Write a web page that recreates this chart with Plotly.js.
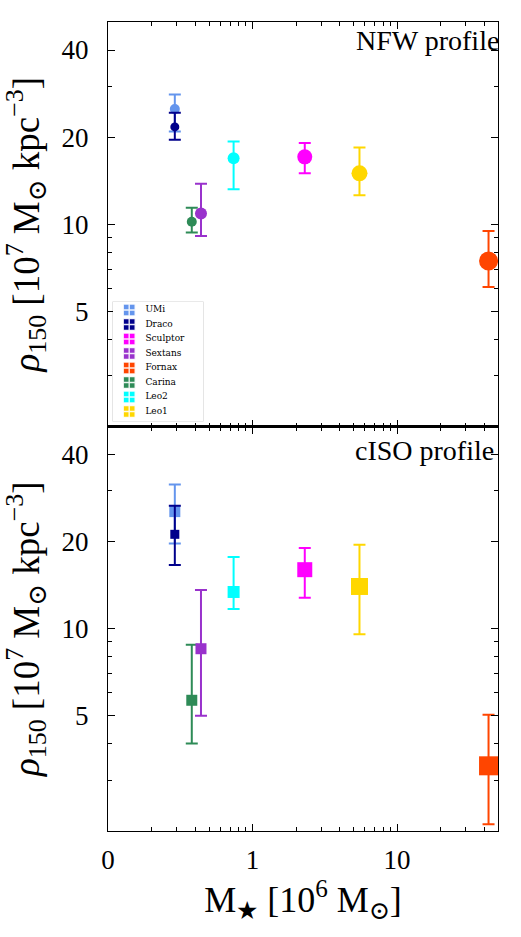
<!DOCTYPE html>
<html>
<head>
<meta charset="utf-8">
<script src="https://cdn.plot.ly/plotly-3.0.1.min.js"></script>
<style>
  html, body { margin: 0; padding: 0; background: #ffffff; }
  #chart { width: 521px; height: 937px; }
</style>
</head>
<body>
<div id="chart"></div>
<script>
// Dwarf spheroidal galaxies: stellar mass vs. dark-matter density at 150 pc
const galaxies = ['UMi', 'Draco', 'Sculptor', 'Sextans', 'Fornax', 'Carina', 'Leo2', 'Leo1'];

// Stellar mass [10^6 Msun]
const mstar = [0.29, 0.29, 2.3, 0.44, 43, 0.38, 0.74, 5.5];

// rho_150 [10^7 Msun kpc^-3], NFW fits (median, lower, upper)
const rhoNFW   = [25.0, 21.7, 17.1, 10.9, 7.46, 10.2, 16.9, 15.0];
const rhoNFWlo = [20.9, 19.6, 15.0, 9.11, 6.07, 9.36, 13.2, 12.6];
const rhoNFWhi = [28.1, 24.3, 19.1, 13.8, 9.48, 11.4, 19.3, 18.4];

// rho_150 [10^7 Msun kpc^-3], cored isothermal fits (median, lower, upper)
const rhoISO   = [25.4, 21.2, 16.0, 8.53, 3.36, 5.66, 13.4, 14.0];
const rhoISOlo = [19.7, 16.6, 12.8, 5.00, 2.11, 4.01, 11.7, 9.58];
const rhoISOhi = [31.5, 26.6, 19.0, 13.6, 5.04, 8.81, 17.7, 19.5];

// Axis ticks
const xTickVals = [0.1, 1, 10];
const xTickText = ['0', '1', '10'];
const xMinorVals = [0.2, 0.3, 0.4, 0.5, 0.6, 0.7, 0.8, 0.9, 2, 3, 4, 5, 6, 7, 8, 9, 20, 30, 40];
const yTickVals = [5, 10, 20, 40];
const yTickText = ['5', '10', '20', '40'];
const yMinorVals = [2, 3, 4, 6, 7, 8, 9, 30];

// Styling
const colors = {
  UMi: '#6495ED', Draco: '#00008B', Sculptor: '#FF00FF', Sextans: '#9932CC',
  Fornax: '#FF4500', Carina: '#2E8B57', Leo2: '#00FFFF', Leo1: '#FFD700'
};
const sizeNFW = { UMi: 10, Draco: 9, Sculptor: 15, Sextans: 12, Fornax: 19, Carina: 10, Leo2: 12, Leo1: 16 };
const sizeISO = { UMi: 11, Draco: 9, Sculptor: 15, Sextans: 11, Fornax: 19, Carina: 11, Leo2: 12, Leo1: 17 };
const drawOrder = ['UMi', 'Draco', 'Carina', 'Sextans', 'Leo2', 'Sculptor', 'Leo1', 'Fornax'];
const SERIF = '"Liberation Serif", "DejaVu Serif", serif';

function pointTrace(name, rho, lo, hi, symbol, sizes, xa, ya) {
  const i = galaxies.indexOf(name);
  return {
    type: 'scatter', mode: 'markers', name: name, showlegend: false,
    x: [mstar[i]], y: [rho[i]], xaxis: xa, yaxis: ya,
    marker: { symbol: symbol, size: sizes[name], color: colors[name], line: { width: 0 } },
    error_y: {
      type: 'data', symmetric: false,
      array: [hi[i] - rho[i]], arrayminus: [rho[i] - lo[i]],
      color: colors[name], thickness: 2, width: 6
    },
    hoverinfo: 'x+y+name'
  };
}

const traces = [];
drawOrder.forEach(g => traces.push(pointTrace(g, rhoNFW, rhoNFWlo, rhoNFWhi, 'circle', sizeNFW, 'x', 'y')));
drawOrder.forEach(g => traces.push(pointTrace(g, rhoISO, rhoISOlo, rhoISOhi, 'square', sizeISO, 'x2', 'y2')));

// Compact key in its own small frame (rows 0..7, one per galaxy)
const keyRows = galaxies.map((g, i) => i);
traces.push({
  type: 'scatter', mode: 'markers', xaxis: 'x3', yaxis: 'y3', showlegend: false, hoverinfo: 'skip',
  x: galaxies.map(() => 0.18), y: keyRows,
  marker: { symbol: 'square-cross', size: 12, color: galaxies.map(g => colors[g]),
            line: { color: 'rgba(255,255,255,0.9)', width: 1.4 } }
});
traces.push({
  type: 'scatter', mode: 'text', xaxis: 'x3', yaxis: 'y3', showlegend: false, hoverinfo: 'skip',
  x: galaxies.map(() => 0.36), y: keyRows, text: galaxies, textposition: 'middle right',
  textfont: { family: '"DejaVu Serif", serif', size: 9, color: '#000' }
});

const yTitle = '<i>ρ</i><sub>150</sub> [10<sup>7</sup> M<sub>⊙</sub> kpc<sup>−3</sup>]';

function xAxis(anchor, labels) {
  return {
    type: 'log', range: [-1, Math.log10(50)], anchor: anchor,
    tickmode: 'array', tickvals: xTickVals, ticktext: xTickText,
    showticklabels: labels,
    ticks: 'inside', ticklen: 7, tickwidth: 1, tickcolor: '#000',
    minor: { tickmode: 'array', tickvals: xMinorVals, ticks: 'inside', ticklen: 4, tickwidth: 1, tickcolor: '#000', showgrid: false },
    showline: true, linecolor: '#000', linewidth: 1.2, mirror: 'allticks',
    showgrid: false, zeroline: false,
    tickfont: { family: SERIF, size: 27, color: '#000' },
    ticklabelstandoff: 4
  };
}
function yAxis(anchor, domain) {
  return {
    type: 'log', range: [Math.log10(2), Math.log10(50)], anchor: anchor, domain: domain,
    tickmode: 'array', tickvals: yTickVals, ticktext: yTickText,
    ticks: 'inside', ticklen: 7, tickwidth: 1, tickcolor: '#000',
    minor: { tickmode: 'array', tickvals: yMinorVals, ticks: 'inside', ticklen: 4, tickwidth: 1, tickcolor: '#000', showgrid: false },
    showline: true, linecolor: '#000', linewidth: 1.2, mirror: 'allticks',
    showgrid: false, zeroline: false,
    tickfont: { family: SERIF, size: 27, color: '#000' },
    ticklabelstandoff: 13,
    title: { text: yTitle, font: { family: SERIF, size: 37, color: '#000' }, standoff: 11 }
  };
}

const xa2 = xAxis('y2', true);
xa2.title = { text: 'M<sub>★</sub> [10<sup>6</sup> M<sub>⊙</sub>]', font: { family: SERIF, size: 36, color: '#000' }, standoff: 1 };

const layout = {
  width: 521, height: 937,
  margin: { l: 108, r: 23, t: 22, b: 106 },
  paper_bgcolor: '#ffffff', plot_bgcolor: '#ffffff',
  font: { family: SERIF, color: '#000' },
  showlegend: false,
  xaxis: xAxis('y', false),
  yaxis: yAxis('x', [0.5, 1]),
  xaxis2: xa2,
  yaxis2: yAxis('x2', [0, 0.5]),
  xaxis3: { domain: [0.0128, 0.2436], anchor: 'y3', range: [0, 1], visible: false, fixedrange: true },
  yaxis3: { domain: [0.5068, 0.6539], anchor: 'x3', range: [7.66, -0.55], visible: false, fixedrange: true },
  shapes: [
    { type: 'rect', xref: 'x3 domain', yref: 'y3 domain', x0: 0, x1: 1, y0: 0, y1: 1,
      line: { color: '#d4d4d4', width: 1.2 }, fillcolor: 'rgba(255,255,255,0.8)', layer: 'below' }
  ],
  annotations: [
    { text: 'NFW profile', xref: 'paper', yref: 'paper', x: 1.008, y: 0.999, xanchor: 'right', yanchor: 'top',
      showarrow: false, font: { family: SERIF, size: 28, color: '#000' } },
    { text: 'cISO profile', xref: 'paper', yref: 'paper', x: 0.995, y: 0.492, xanchor: 'right', yanchor: 'top',
      showarrow: false, font: { family: SERIF, size: 28, color: '#000' } }
  ]
};

Plotly.newPlot('chart', traces, layout, { displayModeBar: false, staticPlot: true });
</script>
</body>
</html>
